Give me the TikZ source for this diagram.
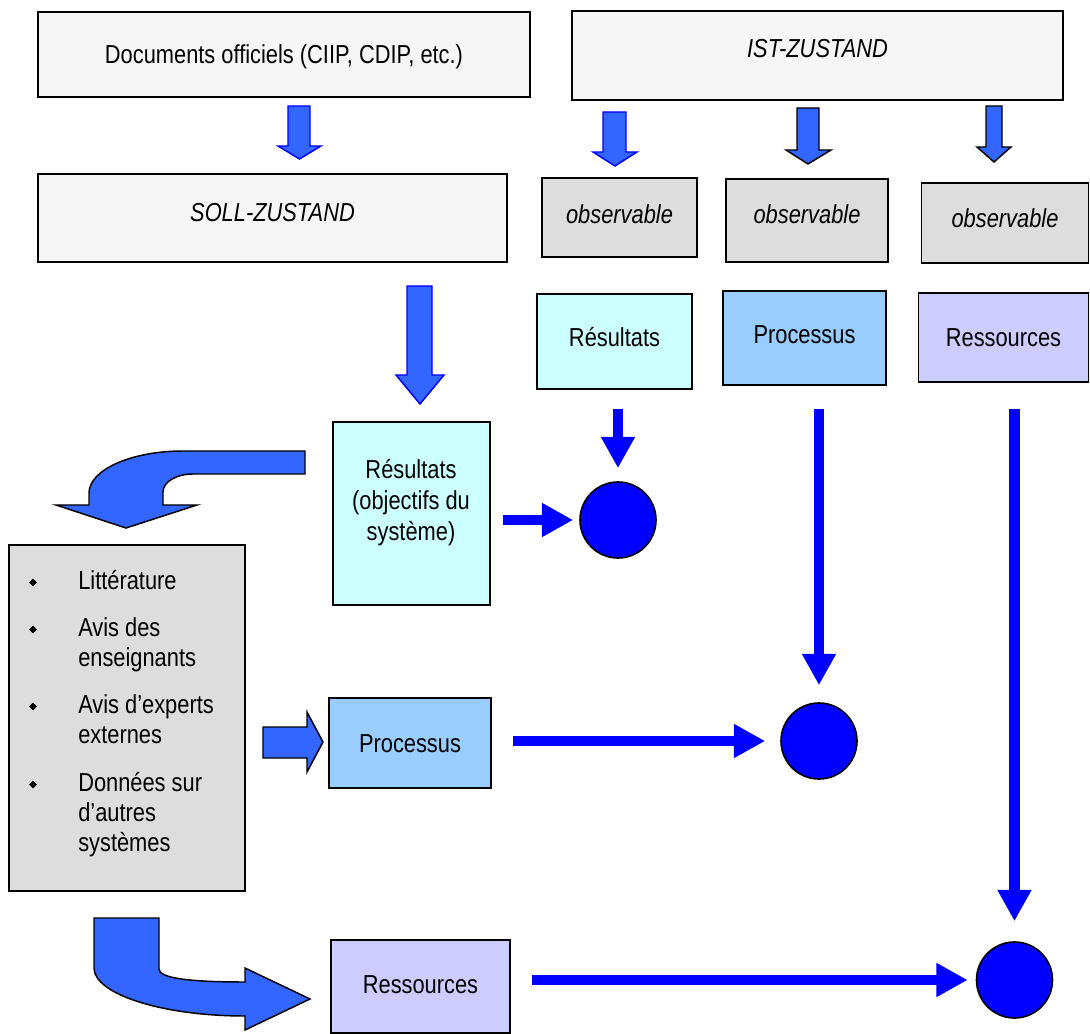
\documentclass[tikz,border=0pt]{standalone}
\usepackage{fontspec}
\setmainfont{Liberation Sans}[FakeStretch=0.84]
\usetikzlibrary{arrows.meta,shapes.geometric}
\definecolor{softgray}{HTML}{F6F6F6}
\definecolor{midgray}{HTML}{DDDDDD}
\definecolor{rescol}{HTML}{CCFFFF}
\definecolor{procol}{HTML}{99CCFF}
\definecolor{ressol}{HTML}{CCCCFF}
\definecolor{blockblue}{HTML}{3366FF}
\definecolor{pureblue}{HTML}{0000FF}
\begin{document}
\begin{tikzpicture}[x=0.75pt,y=-0.75pt,
  font=\fontsize{19.5pt}{23.25pt}\selectfont,
  box/.style={draw=black, line width=1.2pt, inner sep=0pt, text height=14pt, text depth=0pt},
  plainbox/.style={draw=black, line width=1.2pt, inner sep=0pt},
  txt/.style={inner sep=0pt},
  dot/.style={circle, fill=pureblue, draw=black, line width=1.2pt, minimum size=57pt, inner sep=0pt},
  bul/.style={diamond, fill=black, inner sep=0pt, minimum size=6pt},
  blockarrow/.style={fill=blockblue, draw=black, line width=1.1pt},
  bluerim/.style={draw=pureblue},
  thinarrow/.style={draw=pureblue, line width=8pt, -{Triangle[length=23.5pt,width=24pt]}}]
\useasboundingbox (0,0) rectangle (1090,1034);

% --- boxes ---
\node[box, fill=softgray, minimum width=492*0.75pt, minimum height=85*0.75pt] (doc) at (284,54.5) {Documents officiels (CIIP, CDIP, etc.)};
\node[box, fill=softgray, minimum width=491*0.75pt, minimum height=89*0.75pt, text depth=11.25pt] (ist) at (817.5,55.5) {\itshape IST-ZUSTAND};
\node[box, fill=softgray, minimum width=469*0.75pt, minimum height=88*0.75pt, text depth=9pt] (soll) at (272.5,218) {\itshape SOLL-ZUSTAND};

\node[box, fill=midgray, minimum width=155*0.75pt, minimum height=79*0.75pt, text depth=5.25pt] (obs1) at (619.5,217.5) {\itshape observable};
\node[box, fill=midgray, minimum width=162*0.75pt, minimum height=83*0.75pt, text depth=9.75pt] (obs2) at (807,220.5) {\itshape observable};
\node[box, fill=midgray, minimum width=167*0.75pt, minimum height=80*0.75pt, text depth=7.5pt] (obs3) at (1005,223) {\itshape observable};

\node[box, fill=rescol, minimum width=155*0.75pt, minimum height=95*0.75pt, text depth=6.75pt] (res1) at (614.5,341.5) {Résultats};
\node[box, fill=procol, minimum width=163*0.75pt, minimum height=94*0.75pt, text depth=6pt] (pro1) at (804.5,338) {Processus};
\node[box, fill=ressol, minimum width=170*0.75pt, minimum height=89*0.75pt] (ress1) at (1003.5,337.5) {Ressources};

\node[plainbox, fill=rescol, minimum width=157*0.75pt, minimum height=183*0.75pt] (resB) at (411.5,513.5) {};
\node[txt, align=center] (resBtext) at (411,503) {Résultats\\(objectifs du\\système)};

\node[plainbox, fill=midgray, minimum width=236*0.75pt, minimum height=346*0.75pt] (lit) at (127,718) {};
\node[bul] (b1) at (33,582.5) {};
\node[bul] (b2) at (33,629.5) {};
\node[bul] (b3) at (33,706.5) {};
\node[bul] (b4) at (33,784.5) {};
\node[txt, anchor=base west] (l1) at (78,589) {Littérature};
\node[txt, anchor=base west] (l2) at (78,636) {Avis des};
\node[txt, anchor=base west] (l3) at (78,666) {enseignants};
\node[txt, anchor=base west] (l4) at (78,713) {Avis d’experts};
\node[txt, anchor=base west] (l5) at (78,743) {externes};
\node[txt, anchor=base west] (l6) at (78,791) {Données sur};
\node[txt, anchor=base west] (l7) at (78,821) {d’autres};
\node[txt, anchor=base west] (l8) at (78,851) {systèmes};

\node[box, fill=procol, minimum width=162*0.75pt, minimum height=90*0.75pt] (pro2) at (410,743) {Processus};
\node[box, fill=ressol, minimum width=179*0.75pt, minimum height=93*0.75pt, text depth=3pt] (ress2) at (420.5,986.5) {Ressources};

% --- circles ---
\node[dot] (c1) at (618,520) {};
\node[dot] (c2) at (819,741) {};
\node[dot] (c3) at (1014.5,980) {};

% --- block arrows ---
\draw[blockarrow, bluerim] (288,106) -- (310,106) -- (310,146) -- (321,146) -- (299.5,159) -- (278,146) -- (288,146) -- cycle;
\draw[blockarrow, bluerim] (603,112) -- (626,112) -- (626,152) -- (637,152) -- (615,166) -- (593,152) -- (603,152) -- cycle;
\draw[blockarrow] (797,108) -- (819,108) -- (819,150) -- (831,150) -- (808,164) -- (786,150) -- (797,150) -- cycle;
\draw[blockarrow] (986,106) -- (1002,106) -- (1002,147) -- (1011,147) -- (994,162) -- (977,147) -- (986,147) -- cycle;
\draw[blockarrow, bluerim] (407,286) -- (432,286) -- (432,375) -- (444,375) -- (420,404) -- (396,375) -- (407,375) -- cycle;
\draw[blockarrow] (263,727) -- (307,727) -- (307,712) -- (323,742) -- (307,772) -- (307,758) -- (263,758) -- cycle;

% curved block arrows
\draw[blockarrow] (305,451) -- (183,451) .. controls (131,451) and (89,470) .. (89,493) -- (89,505) -- (56,505) -- (126,528) -- (197,505) -- (163,505) -- (163,492) .. controls (163,482) and (176,474) .. (193,474) -- (305,474) -- cycle;
\draw[blockarrow] (94,918) -- (159,918) -- (159,969) .. controls (159,978) and (188,982) .. (245,982) -- (245,968) -- (310,999) -- (245,1030) -- (245,1016) .. controls (162,1016) and (94,994) .. (94,968) -- cycle;

% --- thin blue arrows ---
\draw[thinarrow, shorten <=14.25pt, shorten >=9.75pt] (res1.south -| c1.center) -- (c1.north);
\draw[thinarrow, shorten <=9pt, shorten >=4.5pt] (resB.east |- c1.west) -- (c1.west);
\draw[thinarrow, shorten <=17.25pt, shorten >=12.75pt] (pro1.south -| c2.center) -- (c2.north);
\draw[thinarrow, shorten <=15.75pt, shorten >=11.25pt] (pro2.east |- c2.west) -- (c2.west);
\draw[thinarrow, shorten <=19.5pt, shorten >=15pt] (ress1.south -| c3.center) -- (c3.north);
\draw[thinarrow, shorten <=15.75pt, shorten >=6pt] (ress2.east |- c3.west) -- (c3.west);
\end{tikzpicture}
\end{document}
